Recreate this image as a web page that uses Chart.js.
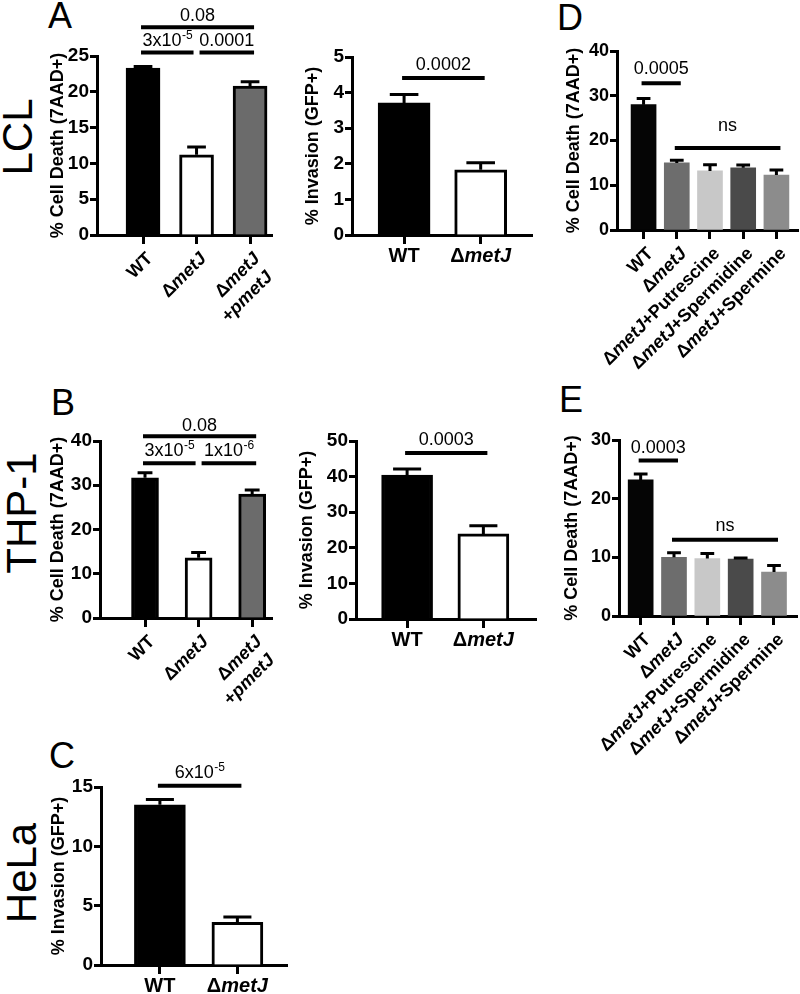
<!DOCTYPE html>
<html>
<head>
<meta charset="utf-8">
<script src="https://cdn.jsdelivr.net/npm/chart.js@4.4.1/dist/chart.umd.min.js"></script>
<style>
  body { margin: 0; background: #fff; width: 800px; height: 994px; position: relative; overflow: hidden;
         font-family: "Liberation Sans", Arial, sans-serif; }
  canvas { position: absolute; }
  .letter { position: absolute; font-size: 36px; line-height: 1; color: #000; }
  .row { position: absolute; font-size: 42px; line-height: 1; color: #000; white-space: nowrap;
         transform: translate(-50%, -50%) rotate(-90deg); }
</style>
</head>
<body>
<div class="letter" style="left:48px;top:-2px">A</div>
<div class="letter" style="left:51px;top:385px">B</div>
<div class="letter" style="left:49px;top:738px">C</div>
<div class="letter" style="left:557px;top:0px">D</div>
<div class="letter" style="left:559px;top:382px">E</div>
<div class="row" style="left:18px;top:137px">LCL</div>
<div class="row" style="left:22px;top:513px">THP-1</div>
<div class="row" style="left:22px;top:873px">HeLa</div>

<script>
// categories (text between underscores is italic)
const catsDeath = ["WT", "Δ_metJ_", "Δ_metJ_\n+_pmetJ_"];
const catsInvasion = ["WT", "Δ_metJ_"];
const catsPolyamine = ["WT", "Δ_metJ_", "Δ_metJ_+Putrescine", "Δ_metJ_+Spermidine", "Δ_metJ_+Spermine"];

// means and SEM
const lclDeath = [23.3, 11.2, 20.8];
const lclDeathSem = [0.25, 1.1, 0.6];
const lclInvasion = [3.71, 1.83];
const lclInvasionSem = [0.24, 0.2];
const thpDeath = [31.7, 13.6, 28.0];
const thpDeathSem = [1.1, 1.2, 0.9];
const thpInvasion = [40.4, 23.9];
const thpInvasionSem = [1.7, 2.3];
const helaInvasion = [13.5, 3.6];
const helaInvasionSem = [0.45, 0.45];
const polyD = [28.0, 15.0, 13.2, 13.9, 12.3];
const polyDSem = [1.4, 0.6, 1.4, 0.6, 1.1];
const polyE = [23.2, 10.0, 9.8, 9.7, 7.5];
const polyESem = [1.0, 0.8, 0.85, 0.2, 1.1];

// y tick values
const ticksLclDeath = [0, 5, 10, 15, 20, 25];
const ticksLclInvasion = [0, 1, 2, 3, 4, 5];
const ticksThpDeath = [0, 10, 20, 30, 40];
const ticksThpInvasion = [0, 10, 20, 30, 40, 50];
const ticksHela = [0, 5, 10, 15];
const ticksPolyD = [0, 10, 20, 30, 40];
const ticksPolyE = [0, 10, 20, 30];

// p-value brackets: [from, to, height, label]
const lclDeathSig = [[0, 2, 29, "0.08"], [0, 1, 25.5, "3x10^-5"], [1, 2, 25.5, "0.0001"]];
const lclInvasionSig = [[0, 1, 4.41, "0.0002"]];
const thpDeathSig = [[0, 2, 41.1, "0.08"], [0, 1, 35.0, "3x10^-5"], [1, 2, 35.0, "1x10^-6"]];
const thpInvasionSig = [[0, 1, 46.6, "0.0003"]];
const helaSig = [[0, 1, 15.1, "6x10^-5"]];
const polyDSig = [[0, 1, 32.8, "0.0005"], [1, 4, 18.3, "ns"]];
const polyESig = [[0, 1, 26.5, "0.0003"], [1, 4, 13.0, "ns"]];

const FAM = '"Liberation Sans", Arial, sans-serif';
const deathTitle = "% Cell Death (7AAD+)";
const invTitle = "% Invasion (GFP+)";
const greys3 = ["#000000", "#ffffff", "#6b6b6b"];
const greys2 = ["#000000", "#ffffff"];
const greys5 = ["#050505", "#6d6d6d", "#c8c8c8", "#4a4a4a", "#8c8c8c"];

const panels = [
  { cats: catsDeath, vals: lclDeath, sem: lclDeathSem, ticks: ticksLclDeath, sig: lclDeathSig, title: deathTitle,
    area: [97, 272, 56, 235], titleX: 58, xRange: [-0.86, 2.41], bar: 34, colors: greys3, border: 3,
    rotate: true, xH: 110, gaps: [4, 4, 4], tickSize: 19 },
  { cats: catsInvasion, vals: lclInvasion, sem: lclInvasionSem, ticks: ticksLclInvasion, sig: lclInvasionSig, title: invTitle,
    area: [352, 532, 57, 235], titleX: 313, xRange: [-0.68, 1.67], bar: 52, colors: greys2, border: 3,
    rotate: false, xH: 40, gaps: [6], tickSize: 19 },
  { cats: catsDeath, vals: thpDeath, sem: thpDeathSem, ticks: ticksThpDeath, sig: thpDeathSig, title: deathTitle,
    area: [100, 272, 441, 618], titleX: 58, xRange: [-0.84, 2.37], bar: 27, colors: greys3, border: 3,
    rotate: true, xH: 110, gaps: [3, 5, 5], tickSize: 19 },
  { cats: catsInvasion, vals: thpInvasion, sem: thpInvasionSem, ticks: ticksThpInvasion, sig: thpInvasionSig, title: invTitle,
    area: [356, 536, 441, 619], titleX: 307, xRange: [-0.67, 1.69], bar: 51, colors: greys2, border: 3,
    rotate: false, xH: 40, gaps: [6], tickSize: 19 },
  { cats: catsInvasion, vals: helaInvasion, sem: helaInvasionSem, ticks: ticksHela, sig: helaSig, title: invTitle,
    area: [101, 287, 787, 965], titleX: 59, xRange: [-0.76, 1.64], bar: 51, colors: greys2, border: 3,
    rotate: false, xH: 29, gaps: [6], tickSize: 19 },
  { cats: catsPolyamine, vals: polyD, sem: polyDSem, ticks: ticksPolyD, sig: polyDSig, title: deathTitle,
    area: [617, 798, 51, 230], titleX: 574, xRange: [-0.8, 4.65], bar: 25, colors: greys5, border: 0,
    rotate: true, xH: 155, gaps: [7, 15], tickSize: 18 },
  { cats: catsPolyamine, vals: polyE, sem: polyESem, ticks: ticksPolyE, sig: polyESig, title: deathTitle,
    area: [619, 797, 440, 616], titleX: 572, xRange: [-0.65, 4.69], bar: 25, colors: greys5, border: 0,
    rotate: true, xH: 155, gaps: [6, 7], tickSize: 18 }
];

function segs(line) {
  return line.split('_').map((t, k) => ({ t, it: k % 2 === 1 })).filter(s => s.t);
}
function segFont(s, size) {
  return (s.it ? 'italic ' : '') + 'bold ' + size + 'px ' + FAM;
}
function segWidth(ctx, sg, size) {
  let w = 0;
  sg.forEach(s => { ctx.font = segFont(s, size); w += ctx.measureText(s.t).width; });
  return w;
}
function drawSegs(ctx, sg, x, y, size) {
  sg.forEach(s => {
    ctx.font = segFont(s, size);
    ctx.fillText(s.t, x, y);
    x += ctx.measureText(s.t).width;
  });
}
function drawP(ctx, txt, cx, y) {
  const [base, sup] = txt.split('^');
  ctx.font = '18px ' + FAM;
  const wb = ctx.measureText(base).width;
  let ws = 0;
  if (sup) { ctx.font = '12px ' + FAM; ws = ctx.measureText(sup).width; }
  const x = cx - (wb + ws) / 2;
  ctx.textAlign = 'left';
  ctx.textBaseline = 'alphabetic';
  ctx.font = '18px ' + FAM;
  ctx.fillText(base, x, y);
  if (sup) { ctx.font = '12px ' + FAM; ctx.fillText(sup, x + wb + 0.5, y - 7); }
}

function extras(p) {
  return {
    id: 'extras',
    afterDraw(chart) {
      const xs = chart.scales.x, ys = chart.scales.y, ctx = chart.ctx;
      ctx.save();
      ctx.strokeStyle = '#000';
      ctx.fillStyle = '#000';
      // error bars (upper only)
      ctx.lineWidth = 3;
      p.vals.forEach((v, i) => {
        const x = xs.getPixelForValue(i);
        const y0 = ys.getPixelForValue(v), y1 = ys.getPixelForValue(v + p.sem[i]);
        const cw = p.bar * 0.55 / 2;
        ctx.beginPath();
        ctx.moveTo(x, y0); ctx.lineTo(x, y1);
        ctx.moveTo(x - cw, y1); ctx.lineTo(x + cw, y1);
        ctx.stroke();
      });
      // significance lines
      p.sig.forEach((s, k) => {
        const [i, j, yv, txt] = s;
        let x0 = xs.getPixelForValue(i) - 2, x1 = xs.getPixelForValue(j) + 4;
        if (p.sig.some(o => o !== s && o[2] === yv && o[0] === j)) x1 = xs.getPixelForValue(j) - 3;
        if (p.sig.some(o => o !== s && o[2] === yv && o[1] === i)) x0 = xs.getPixelForValue(i) + 3;
        const y = ys.getPixelForValue(yv);
        ctx.lineWidth = 4;
        ctx.beginPath(); ctx.moveTo(x0, y); ctx.lineTo(x1, y); ctx.stroke();
        drawP(ctx, txt, (x0 + x1) / 2, y - 2 - p.gaps[k]);
      });
      // category labels
      const ax = xs.top;
      p.cats.forEach((c, i) => {
        const x = xs.getPixelForValue(i);
        const lines = c.split('\n');
        ctx.textAlign = 'left';
        if (p.rotate) {
          ctx.save();
          ctx.translate(x + 7, ax + 21);
          ctx.rotate(-Math.PI / 4);
          ctx.textBaseline = 'middle';
          lines.forEach((l, k) => {
            const sg = segs(l);
            drawSegs(ctx, sg, -segWidth(ctx, sg, 18) - k * 4, k * 22, 18);
          });
          ctx.restore();
        } else {
          ctx.textBaseline = 'alphabetic';
          const sg = segs(lines[0]);
          const w = segWidth(ctx, sg, 20);
          drawSegs(ctx, sg, x - w / 2, ax + 27, 20);
        }
      });
      ctx.restore();
    }
  };
}

panels.forEach(p => {
  const [l, r, t, b] = p.area;
  const yW = l - p.titleX + 11;
  const padTop = Math.min(60, t);
  const padRight = 6;
  const left = l - yW, top = t - padTop;
  const w = r + padRight - left, h = b + p.xH - top;
  const cv = document.createElement('canvas');
  cv.width = w; cv.height = h;
  cv.style.left = left + 'px'; cv.style.top = top + 'px';
  cv.style.width = w + 'px'; cv.style.height = h + 'px';
  document.body.appendChild(cv);

  new Chart(cv, {
    type: 'bar',
    data: {
      datasets: [{
        data: p.vals.map((v, i) => ({ x: i, y: v })),
        backgroundColor: p.colors,
        borderColor: '#000',
        borderWidth: p.border,
        borderSkipped: 'bottom',
        barThickness: p.bar
      }]
    },
    options: {
      responsive: false,
      animation: false,
      devicePixelRatio: 1,
      layout: { padding: { top: padTop, right: padRight, left: 0, bottom: 0 } },
      plugins: { legend: { display: false }, tooltip: { enabled: false } },
      scales: {
        x: {
          type: 'linear', min: p.xRange[0], max: p.xRange[1], offset: false,
          afterBuildTicks: s => { s.ticks = p.cats.map((c, i) => ({ value: i })); },
          afterFit: s => { s.height = p.xH; },
          ticks: { autoSkip: false, maxRotation: 0, callback: () => '' },
          grid: { offset: false, drawOnChartArea: false, drawTicks: true, tickLength: 9, tickWidth: 3, tickColor: '#000' },
          border: { display: true, width: 3, color: '#000' }
        },
        y: {
          min: 0, max: p.ticks[p.ticks.length - 1],
          afterBuildTicks: s => { s.ticks = p.ticks.map(v => ({ value: v })); },
          afterFit: s => { s.width = yW; },
          ticks: { autoSkip: false, color: '#000', padding: 1, font: { family: FAM, size: p.tickSize, weight: 'bold' } },
          grid: { drawOnChartArea: false, drawTicks: true, tickLength: 7, tickWidth: 3, tickColor: '#000' },
          border: { display: true, width: 3, color: '#000' },
          title: { display: true, text: p.title, color: '#000', padding: { top: 0.2, bottom: 0 },
                   font: { family: FAM, size: 18, weight: 'bold' } }
        }
      }
    },
    plugins: [extras(p)]
  });
});
</script>
</body>
</html>
